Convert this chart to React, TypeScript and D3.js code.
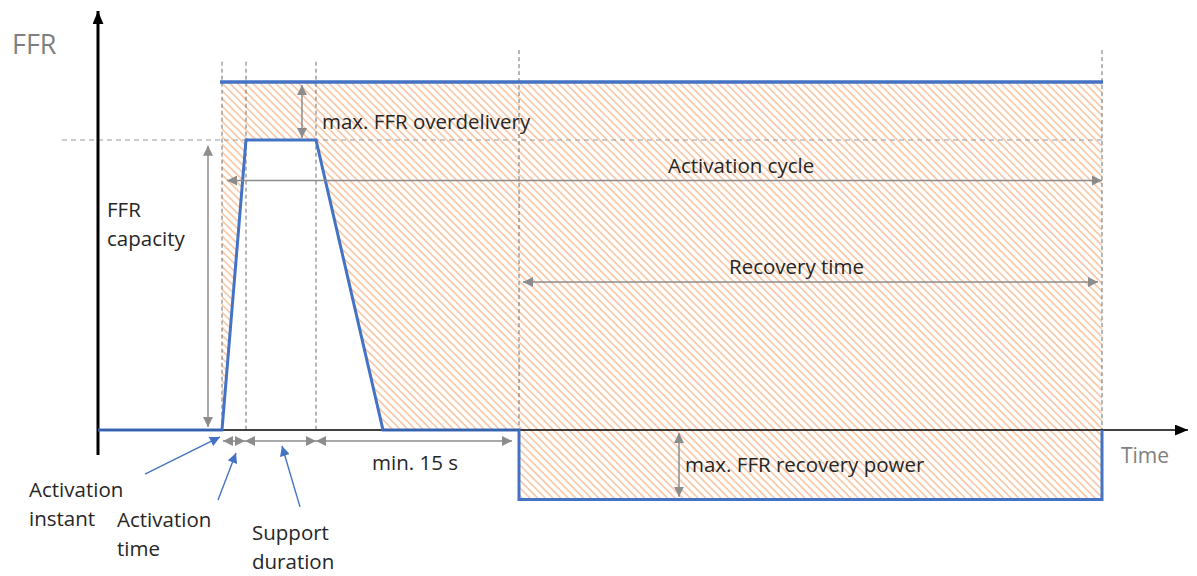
import * as d3 from "d3";

// time axis (s) and power (fraction of FFR capacity)
const profileT = [0, 12.4, 14.8, 21.8, 28.5, 42.1, 42.1, 100.4, 100.4];
const profileP = [0, 0, 1, 1, 0, 0, -0.24, -0.24, 0];
const overdeliveryLevel = 1.2;
const cycleStart = 12.4;
const cycleEnd = 100.4;

// dashed guides
const guideT = [12.4, 14.8, 21.8, 42.1, 100.4];
const guideTop = [1.27, 1.27, 1.27, 1.31, 1.31];

// gray dimension arrows: [x1, y1, x2, y2]
const dimNames = ["overdelivery", "capacity", "cycle", "recovery", "actTime", "support", "min15", "recPower"];
const dimX1 = [20.4, 11.0, 12.9, 42.5, 12.5, 14.7, 21.8, 58.1];
const dimY1 = [1.19, 0.98, 0.86, 0.51, -0.038, -0.038, -0.038, -0.01];
const dimX2 = [20.4, 11.0, 100.4, 100.0, 14.7, 21.8, 41.4, 58.1];
const dimY2 = [1.007, 0.01, 0.86, 0.51, -0.038, -0.038, -0.038, -0.23];

// labels
const labelLines = [
  ["max. FFR overdelivery"],
  ["Activation cycle"],
  ["Recovery time"],
  ["FFR", "capacity"],
  ["min. 15 s"],
  ["max. FFR recovery power"],
  ["Activation", "instant"],
  ["Activation", "time"],
  ["Support", "duration"],
];
const labelT = [22.4, 57.0, 63.1, 0.9, 27.4, 58.7, -6.9, 1.9, 15.4];
const labelP = [1.038, 0.886, 0.538, 0.734, -0.138, -0.144, -0.231, -0.334, -0.379];

// blue callouts: tail -> tip
const calloutT1 = [4.7, 12.0, 20.2];
const calloutP1 = [-0.152, -0.241, -0.265];
const calloutT2 = [12.2, 13.8, 18.4];
const calloutP2 = [-0.024, -0.079, -0.055];

const W = 1197;
const H = 576;
const x = d3.scaleLinear().domain([0, 100]).range([98, 1098]);
const y = d3.scaleLinear().domain([0, 1]).range([430, 140]);

const FONT = "'Open Sans', 'Noto Sans', sans-serif";
const BLUE = "#4472C4";
const GRAY = "#8c8c8c";

export default function App() {
  const pts = profileT.map((t, i) => ({ t, p: profileP[i] }));
  const line = d3
    .line<any>()
    .x((d) => x(d.t))
    .y((d) => y(d.p));
  const hatchPts = pts.filter((d) => d.t >= cycleStart && d.t <= cycleEnd);
  const area = d3
    .area<any>()
    .x((d) => x(d.t))
    .y0((d) => y(d.p))
    .y1(() => y(overdeliveryLevel));

  return (
    <svg
      width={W}
      height={H}
      style={{ position: "absolute", left: 0, top: 0, background: "#fff" }}
    >
      <defs>
        <pattern
          id="hatch"
          patternUnits="userSpaceOnUse"
          width={5.4}
          height={5.4}
          patternTransform="rotate(-45)"
        >
          <line x1={1} y1={0} x2={1} y2={5.4} stroke="#F4B183" strokeWidth={1.5} opacity={0.8} />
        </pattern>
        <marker
          id="grayHead"
          viewBox="0 0 10 10"
          refX={10}
          refY={5}
          markerWidth={10}
          markerHeight={10}
          markerUnits="userSpaceOnUse"
          orient="auto-start-reverse"
        >
          <path d="M0,0 L10,5 L0,10 z" fill={GRAY} />
        </marker>
        <marker
          id="blackHead"
          viewBox="0 0 12 10"
          refX={12}
          refY={5}
          markerWidth={13}
          markerHeight={11}
          markerUnits="userSpaceOnUse"
          orient="auto"
        >
          <path d="M0,0 L12,5 L0,10 z" fill="#000" />
        </marker>
        <marker
          id="blueHead"
          viewBox="0 0 10 10"
          refX={10}
          refY={5}
          markerWidth={11}
          markerHeight={10}
          markerUnits="userSpaceOnUse"
          orient="auto"
        >
          <path d="M0,0 L10,5 L0,10 z" fill={BLUE} />
        </marker>
      </defs>

      {/* hatched activation cycle area */}
      <path d={area(hatchPts) ?? ""} fill="url(#hatch)" />

      {/* capacity level */}
      <line
        x1={62}
        x2={x(cycleEnd)}
        y1={y(1)}
        y2={y(1)}
        stroke="#9a9a9a"
        strokeWidth={1.2}
        strokeDasharray="5,4"
      />

      {/* vertical guides */}
      {guideT.map((t, i) => (
        <line
          key={i}
          x1={x(t)}
          x2={x(t)}
          y1={y(guideTop[i])}
          y2={y(0)}
          stroke="#6f6f6f"
          strokeWidth={1}
          strokeDasharray="4,3"
        />
      ))}

      {/* axes */}
      <line x1={x(0)} x2={x(0)} y1={y(-0.086)} y2={y(1.445)} stroke="#000" strokeWidth={3} markerEnd="url(#blackHead)" />
      <line x1={x(0)} x2={x(109)} y1={y(0)} y2={y(0)} stroke="#000" strokeWidth={1.5} markerEnd="url(#blackHead)" />
      <text x={12} y={54} fontFamily={FONT} fontSize={27} fill="#7f7f7f">FFR</text>
      <text x={1121} y={463} fontFamily={FONT} fontSize={21} fill="#7f7f7f">Time</text>

      {/* FFR profile */}
      <path d={line(pts) ?? ""} fill="none" stroke={BLUE} strokeWidth={3} strokeLinejoin="miter" />
      <line
        x1={x(cycleStart) - 2}
        x2={x(cycleEnd) + 1}
        y1={y(overdeliveryLevel)}
        y2={y(overdeliveryLevel)}
        stroke={BLUE}
        strokeWidth={3.5}
      />
      <line x1={x(0)} x2={x(cycleStart)} y1={y(0)} y2={y(0)} stroke="#1f3b73" strokeWidth={1} opacity={0.6} />
      <line x1={x(28.5)} x2={x(42.1)} y1={y(0)} y2={y(0)} stroke="#1f3b73" strokeWidth={1} opacity={0.6} />

      {/* dimension arrows */}
      {dimNames.map((n, i) => (
        <line
          key={n}
          x1={x(dimX1[i])}
          y1={y(dimY1[i])}
          x2={x(dimX2[i])}
          y2={y(dimY2[i])}
          stroke={GRAY}
          strokeWidth={1.5}
          markerStart="url(#grayHead)"
          markerEnd="url(#grayHead)"
        />
      ))}

      {/* callouts */}
      {calloutT1.map((t, i) => (
        <line
          key={i}
          x1={x(t)}
          y1={y(calloutP1[i])}
          x2={x(calloutT2[i])}
          y2={y(calloutP2[i])}
          stroke={BLUE}
          strokeWidth={1.4}
          markerEnd="url(#blueHead)"
        />
      ))}

      {/* labels */}
      {labelLines.map((lines, i) => (
        <text key={i} x={x(labelT[i])} y={y(labelP[i])} fontFamily={FONT} fontSize={20.5} fill="#262626">
          {lines.map((s, j) => (
            <tspan key={j} x={x(labelT[i])} dy={j === 0 ? 0 : 29}>
              {s}
            </tspan>
          ))}
        </text>
      ))}
    </svg>
  );
}
